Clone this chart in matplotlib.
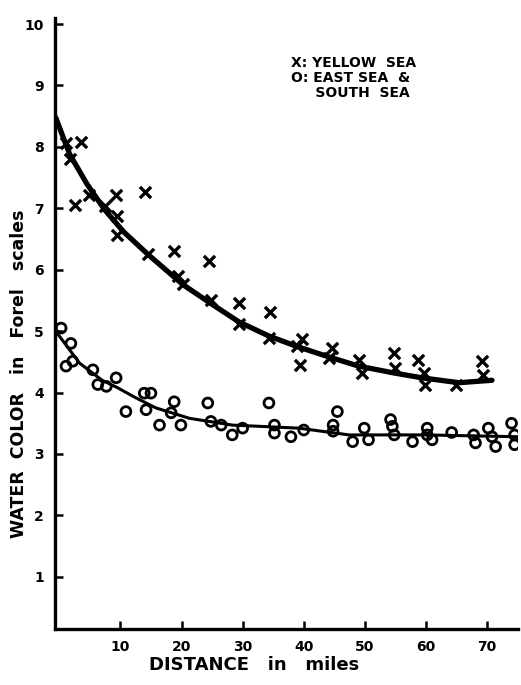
import matplotlib.pyplot as plt

# Yellow Sea observations (X)
yellow_x = [1.1, 3.6, 1.7, 2.5, 4.8, 7.4, 9.2, 14.1, 9.4, 9.4, 14.5, 18.8, 24.5,
            19.4, 20.2, 24.8, 29.4, 29.4, 34.5, 34.3, 38.9, 39.7, 39.4, 44.6,
            44.1, 49.0, 49.6, 54.7, 55.0, 58.7, 59.6, 59.8, 64.9, 69.2, 69.3]
yellow_y = [8.07, 8.08, 7.80, 7.06, 7.21, 7.04, 7.22, 7.26, 6.87, 6.57, 6.25, 6.30, 6.14,
            5.89, 5.76, 5.51, 5.46, 5.11, 5.31, 4.89, 4.75, 4.88, 4.45, 4.72,
            4.57, 4.53, 4.32, 4.65, 4.40, 4.53, 4.32, 4.13, 4.13, 4.51, 4.29]

# East Sea & South Sea observations (O)
east_x = [0.3, 1.9, 1.1, 2.2, 5.5, 6.3, 7.7, 9.3, 13.9, 15.0, 10.9, 14.2, 16.4,
          18.8, 18.3, 19.9, 24.3, 24.8, 26.5, 28.3, 30.0, 34.3, 35.2, 35.2, 37.9,
          40.0, 45.5, 44.8, 44.8, 48.0, 49.9, 50.6, 54.2, 54.5, 54.8, 57.8,
          60.2, 60.2, 61.0, 64.2, 67.8, 68.1, 70.2, 70.8, 71.4, 74.0, 74.5, 74.5]
east_y = [5.05, 4.80, 4.43, 4.51, 4.37, 4.13, 4.10, 4.24, 3.99, 3.99, 3.69, 3.72, 3.47,
          3.85, 3.67, 3.47, 3.83, 3.53, 3.47, 3.31, 3.42, 3.83, 3.47, 3.34, 3.28,
          3.39, 3.69, 3.47, 3.37, 3.20, 3.42, 3.23, 3.56, 3.45, 3.31, 3.20,
          3.42, 3.31, 3.23, 3.35, 3.31, 3.18, 3.42, 3.28, 3.12, 3.50, 3.31, 3.15]

# hand-drawn trend curves
yellow_curve_x = [-0.6, 1.7, 4.5, 7.4, 10.5, 14.5, 20.2, 24.8, 29.4, 34.3, 38.9,
                  44.1, 49.0, 54.7, 59.3, 65.4, 70.8]
yellow_curve_y = [8.48, 7.88, 7.40, 6.98, 6.62, 6.25, 5.76, 5.45, 5.15, 4.92, 4.75,
                  4.58, 4.43, 4.32, 4.24, 4.16, 4.20]
east_curve_x = [-0.6, 1.5, 3.3, 7.0, 9.5, 12.6, 15.8, 21.3, 28.3, 32.7, 39.2,
                47.4, 59.9, 75.2]
east_curve_y = [5.00, 4.72, 4.48, 4.20, 4.08, 3.91, 3.75, 3.58, 3.47, 3.45, 3.42,
                3.31, 3.31, 3.28]

x_ticks = [10, 20, 30, 40, 50, 60, 70]
y_ticks = [1, 2, 3, 4, 5, 6, 7, 8, 9, 10]

plt.rcParams["font.family"] = "DejaVu Sans"
plt.rcParams["font.weight"] = "bold"

fig = plt.figure(figsize=(5.21, 6.85), dpi=100)
ax = fig.add_axes([0.1056, 0.0818, 0.888, 0.892])

ax.plot(yellow_curve_x, yellow_curve_y, color="black", lw=3.8,
        solid_capstyle="round", solid_joinstyle="round")
ax.plot(east_curve_x, east_curve_y, color="black", lw=2.2,
        solid_capstyle="round", solid_joinstyle="round")

ax.scatter(yellow_x, yellow_y, marker="x", s=65, color="black", linewidths=2.4)
ax.scatter(east_x, east_y, marker="o", s=50, facecolors="none",
           edgecolors="black", linewidths=2.0)

ax.set_xlim(-0.7, 75)
ax.set_ylim(0.15, 10.1)

ax.set_xticks(x_ticks)
ax.set_yticks(y_ticks)
ax.tick_params(direction="in", length=6, width=1.8, labelsize=10, pad=8)

for side in ["top", "right"]:
    ax.spines[side].set_visible(False)
for side in ["left", "bottom"]:
    ax.spines[side].set_linewidth(2.4)

ax.set_xlabel("DISTANCE   in   miles", fontsize=13, fontweight="bold")
ax.xaxis.set_label_coords(0.43, -0.045)
ax.set_ylabel("WATER  COLOR   in   Forel   scales", fontsize=12.5, fontweight="bold")
ax.yaxis.set_label_coords(-0.058, 0.417)

ax.text(0.51, 0.937, "X: YELLOW  SEA\nO: EAST SEA  &\n     SOUTH  SEA",
        transform=ax.transAxes, fontsize=10, fontweight="bold",
        va="top", ha="left", linespacing=1.05)

fig.savefig("out.png", dpi=100)
